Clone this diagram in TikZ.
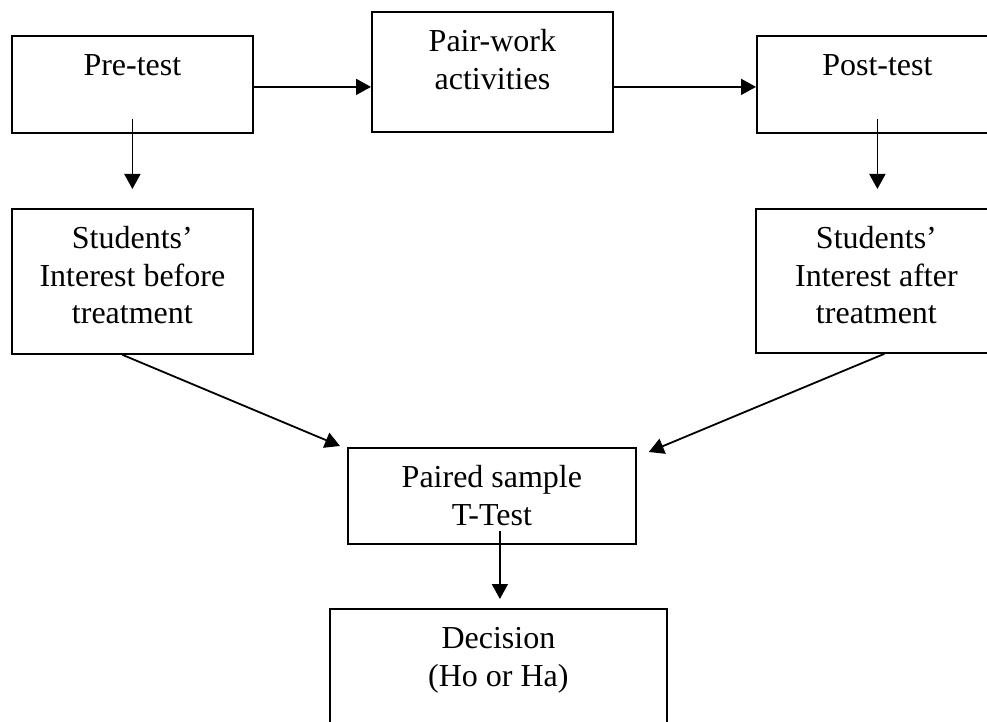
\documentclass[tikz,border=0pt]{standalone}
\usepackage{fontspec}
\setmainfont{Liberation Serif}
\usetikzlibrary{arrows.meta}

% text box with the text set at the top
\newcommand{\flowtext}[3]{\parbox[c][#2][t]{#1}{\centering\rule{0pt}{40pt}#3}}

\tikzset{
  box/.style={draw, line width=1.8pt, inner sep=0pt, anchor=north west,
    font=\fontsize{32pt}{37.5pt}\selectfont},
  arr/.style={line width=1.8pt, -{Triangle[length=15pt,width=16pt]}}
}

\begin{document}
\begin{tikzpicture}[x=1pt,y=-1pt]

      \useasboundingbox (0,0) rectangle (987,722);

      \node[box] (pre)      at (11,35)   {\flowtext{241pt}{97pt}{Pre-test}};
      \node[box] (pair)     at (371,11)  {\flowtext{241pt}{120pt}{Pair-work\\activities}};
      \node[box] (post)     at (756,35)  {\flowtext{241pt}{97pt}{Post-test}};
      \node[box] (before)   at (11,208)  {\flowtext{241pt}{145pt}{Students’\\Interest before\\treatment}};
      \node[box] (after)    at (755,208) {\flowtext{241pt}{144pt}{Students’\\Interest after\\treatment}};
      \node[box] (ttest)    at (347,447) {\flowtext{288pt}{96pt}{Paired sample\\T-Test}};
      \node[box] (decision) at (329,608) {\flowtext{337pt}{150pt}{Decision\\(Ho or Ha)}};

      \draw[arr] ([yshift=-2.5pt]pre.east) -- ([yshift=-2.5pt]pre.east -| pair.west);
      \draw[arr] ([yshift=-2.5pt]pre.east -| pair.east) -- ([yshift=-2.5pt]post.west);

      \draw[arr, shorten >=19pt] ([yshift=15pt]pre.south) -- (pre.south |- before.north);
      \draw[arr, shorten >=19pt] ([yshift=15pt]post.south) -- (post.south |- after.north);

      \draw[arr] ([xshift=-10pt]before.south) -- ([xshift=-7pt,yshift=1pt]ttest.north west);
      \draw[arr] ([xshift=8pt]after.south) -- ([xshift=12pt,yshift=-5pt]ttest.north east);

      \draw[arr] ([xshift=8pt,yshift=14pt]ttest.south) -- ([xshift=8pt,yshift=9pt]ttest.south |- decision.north);

\end{tikzpicture}
\end{document}
